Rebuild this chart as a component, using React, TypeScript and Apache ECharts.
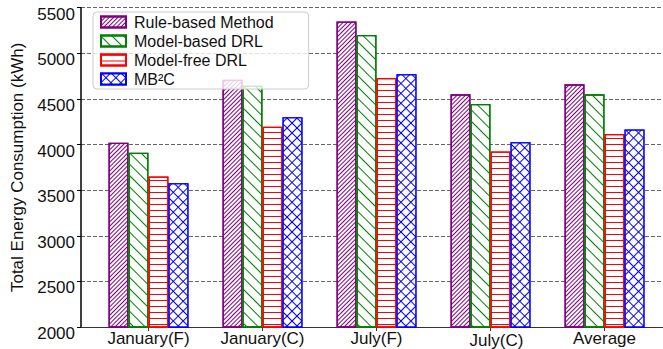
import React, { useEffect, useRef } from "react";
import * as echarts from "echarts";

// Scenario groups along the x axis
const categories = ["January(F)", "January(C)", "July(F)", "July(C)", "Average"];

// Total energy consumption per control method (kWh)
const ruleBased = [4020, 4710, 5350, 4550, 4660];
const modelBasedDrl = [3910, 4645, 5200, 4445, 4550];
const modelFreeDrl = [3650, 4195, 4730, 3925, 4115];
const mb2c = [3575, 4300, 4770, 4025, 4165];

const seriesNames = ["Rule-based Method", "Model-based DRL", "Model-free DRL", "MB\u00B2C"];

// Y axis range and step
const yMin = 2000;
const yMax = 5500;
const yStep = 500;

const FONT = "'Liberation Sans', Arial, Helvetica, sans-serif";

type Decal = Record<string, unknown>;

const decals: Decal[] = [
  // dense "/" hatch
  { symbol: "rect", symbolSize: 1, color: "#800080", dashArrayX: [1, 0], dashArrayY: [1, 2], rotation: -Math.PI / 4 },
  // sparse "\" hatch
  { symbol: "rect", symbolSize: 1, color: "#008000", dashArrayX: [1, 0], dashArrayY: [1, 7], rotation: Math.PI / 4 },
  // horizontal lines
  { symbol: "rect", symbolSize: 1, color: "#ff0000", dashArrayX: [1, 0], dashArrayY: [1, 5], rotation: 0 },
  // cross hatch: white diamonds laid over a blue fill
  { symbol: "rect", symbolSize: 1, color: "#ffffff", dashArrayX: [6, 1], dashArrayY: [6, 1], rotation: Math.PI / 4 },
];

const fillColors = ["#ffffff", "#ffffff", "#ffffff", "#0000ff"];
const edgeColors = ["#800080", "#008000", "#ff0000", "#0000ff"];
const valueSets = [ruleBased, modelBasedDrl, modelFreeDrl, mb2c];

export default function App() {
  const ref = useRef<HTMLDivElement>(null);

  useEffect(() => {
    if (!ref.current) return;
    const chart = echarts.init(ref.current, undefined, { renderer: "svg" });
    const ticks = categories.map((_, i) => i);

    chart.setOption({
      animation: false,
      backgroundColor: "#ffffff",
      textStyle: { fontFamily: FONT },
      grid: { left: 81, right: 0, top: 7.7, bottom: 22, containLabel: false, outerBoundsMode: "none" },
      legend: {
        orient: "vertical",
        left: 93,
        top: 12,
        icon: "rect",
        itemWidth: 25,
        itemHeight: 11,
        itemGap: 3,
        padding: [2, 35, 2, 7],
        backgroundColor: "rgba(255,255,255,0.8)",
        borderColor: "#cccccc",
        borderWidth: 1,
        borderRadius: 4,
        textStyle: { fontSize: 16, color: "#111", fontFamily: FONT, padding: [0, 0, 0, 3] },
        data: seriesNames,
      },
      xAxis: {
        type: "value",
        min: -0.592,
        max: 4.513,
        axisLine: { show: true, onZero: false, lineStyle: { color: "#333", width: 1 } },
        axisTick: { show: true, customValues: ticks, length: 4, lineStyle: { color: "#333" } },
        axisLabel: {
          customValues: ticks,
          fontSize: 17,
          color: "#111",
          fontFamily: FONT,
          margin: 3,
          formatter: (v: number) => {
            const i = Math.round(v);
            return i === 3 ? `{low|${categories[i]}}` : categories[i];
          },
          rich: {
            low: { fontSize: 17, color: "#111", fontFamily: FONT, padding: [2, 0, 0, 12] },
          },
        },
        splitLine: { show: false },
      },
      yAxis: {
        type: "value",
        min: yMin,
        max: yMax,
        interval: yStep,
        name: "Total Energy Consumption (kWh)",
        nameLocation: "middle",
        nameGap: 50,
        nameTextStyle: { fontSize: 17, color: "#111", fontFamily: FONT },
        axisLine: { show: true, onZero: false, lineStyle: { color: "#000", width: 1.5 } },
        axisTick: { show: true, length: 4, lineStyle: { color: "#000" } },
        axisLabel: {
          fontSize: 17,
          color: "#111",
          fontFamily: FONT,
          margin: 6,
          verticalAlign: "top",
          lineHeight: 13,
          formatter: (v: number) => String(v),
        },
        splitLine: { show: true, lineStyle: { type: [4, 2], color: "#666", width: 1 } },
      },
      series: seriesNames.map((name, s) => ({
        name,
        type: "bar",
        barWidth: 20,
        barGap: "0%",
        data: valueSets[s].map((v, i) => [i, v]),
        itemStyle: {
          color: fillColors[s],
          borderColor: edgeColors[s],
          borderWidth: 1.3,
          decal: decals[s],
        },
      })),
    });

    return () => chart.dispose();
  }, []);

  return (
    <div
      ref={ref}
      style={{ position: "fixed", left: 0, top: 0, width: 663, height: 349 }}
    />
  );
}
